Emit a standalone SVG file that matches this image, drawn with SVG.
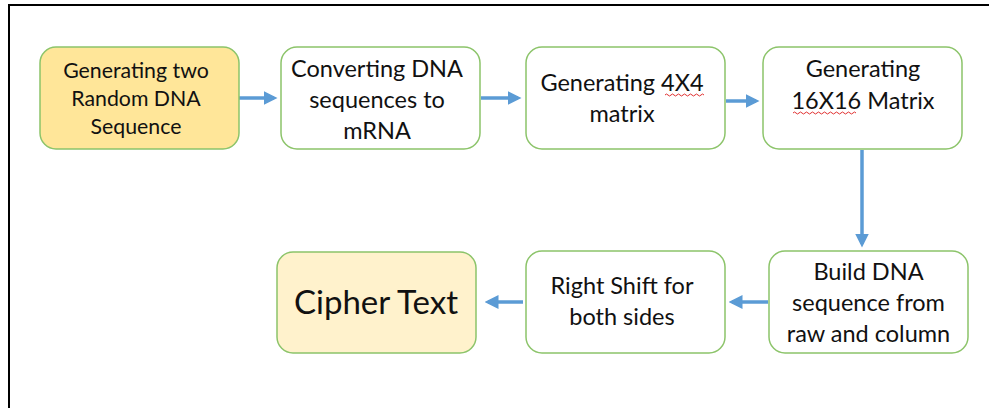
<svg xmlns="http://www.w3.org/2000/svg" width="989" height="408" viewBox="0 0 989 408">
<style>
.box{fill:#ffffff;stroke:#8cc46a;stroke-width:1.5}
.y1{fill:#ffe699}
.y2{fill:#fff2cc}
.t{font-family:Lato,"Liberation Sans",sans-serif;font-size:23.5px;fill:#111;text-anchor:middle}
.sm{font-size:21.3px}
.big{font-size:33px}
.c{stroke:#5b9bd5;stroke-width:3.5;fill:none}
.sq{stroke:#e03030;stroke-width:1;fill:none}
</style>
<defs>
<marker id="ah" markerWidth="4" markerHeight="4" refX="3" refY="2" orient="auto" markerUnits="strokeWidth">
<path d="M0,0 L4,2 L0,4 Z" fill="#5b9bd5"/>
</marker>
</defs>
<rect width="989" height="408" fill="#ffffff"/>
<path d="M989,5 H9 V408" stroke="#000" stroke-width="2" fill="none"/>
<g id="connectors">
<line class="c" x1="239" y1="98" x2="274" y2="98" marker-end="url(#ah)"/>
<line class="c" x1="481" y1="98" x2="518" y2="98" marker-end="url(#ah)"/>
<line class="c" x1="726" y1="101" x2="756" y2="101" marker-end="url(#ah)"/>
<line class="c" x1="862" y1="150" x2="862" y2="244" marker-end="url(#ah)"/>
<line class="c" x1="768" y1="302" x2="732" y2="302" marker-end="url(#ah)"/>
<line class="c" x1="523" y1="302" x2="488" y2="302" marker-end="url(#ah)"/>
</g>
<g id="n1">
<rect class="box y1" x="40" y="47" width="199" height="102" rx="16"/>
<text class="t sm" x="136" y="78">Generating two</text>
<text class="t sm" x="136" y="106">Random DNA</text>
<text class="t sm" x="136" y="134">Sequence</text>
</g>
<g id="n2">
<rect class="box" x="281" y="47" width="199" height="102" rx="16"/>
<text class="t" x="377" y="77">Converting DNA</text>
<text class="t" x="377" y="108">sequences to</text>
<text class="t" x="377" y="139">mRNA</text>
</g>
<g id="n3">
<rect class="box" x="526" y="47" width="199" height="102" rx="16"/>
<text class="t" x="622" y="91">Generating 4X4</text>
<text class="t" x="622" y="122">matrix</text>
<path class="sq" d="M665,95 q1.5,-2 3,0 t3,0 t3,0 t3,0 t3,0 t3,0 t3,0 t3,0 t3,0 t3,0 t3,0 t3,0 t3,0"/>
</g>
<g id="n4">
<rect class="box" x="763" y="47" width="199" height="102" rx="16"/>
<text class="t" x="863" y="77">Generating</text>
<text class="t" x="863" y="109">16X16 Matrix</text>
<path class="sq" d="M793,113 q1.5,-2 3,0 t3,0 t3,0 t3,0 t3,0 t3,0 t3,0 t3,0 t3,0 t3,0 t3,0 t3,0 t3,0 t3,0 t3,0 t3,0 t3,0 t3,0 t3,0 t3,0 t3,0"/>
</g>
<g id="n5">
<rect class="box" x="769" y="251" width="199" height="102" rx="16"/>
<text class="t" x="868.5" y="280">Build DNA</text>
<text class="t" x="868.5" y="311">sequence from</text>
<text class="t" x="868.5" y="342">raw and column</text>
</g>
<g id="n6">
<rect class="box" x="526" y="251" width="199" height="102" rx="16"/>
<text class="t" x="622" y="294">Right Shift for</text>
<text class="t" x="622" y="325">both sides</text>
</g>
<g id="n7">
<rect class="box y2" x="277" y="252" width="199" height="101" rx="16"/>
<text class="t big" x="376" y="314">Cipher Text</text>
</g>
</svg>
